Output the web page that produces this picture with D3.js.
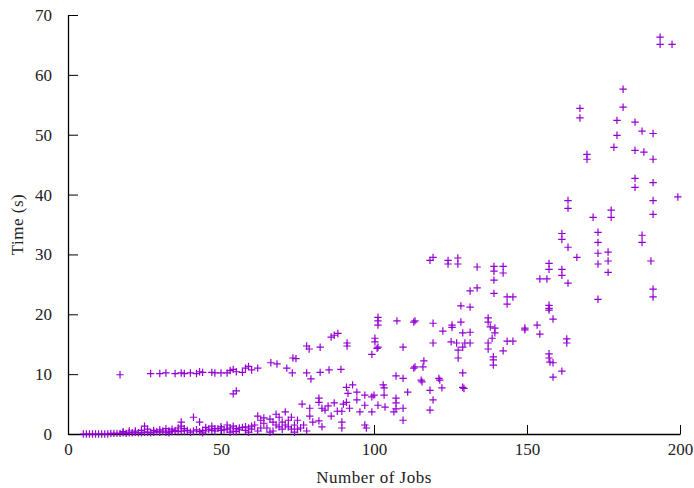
<!DOCTYPE html>
<html>
<head>
<meta charset="utf-8">
<script src="https://cdn.jsdelivr.net/npm/d3@7"></script>
<style>
  body { margin: 0; background: #fff; }
  svg { display: block; }
</style>
</head>
<body>
<div id="chart"></div>
<script>
// Data
//////////////////////////////////////////////////////////////////////
// near-zero runs, small job counts
const jobsLow = [5,6,7,8,9,10,11,12,13,14,15,16,17,18,19,20,21,22,23,24,25,26,27,28,29,30,31,32,33,34,35,36,37,38,39,40,41,42,43,44,45,46,47,48,49,50,51,52,53,54,55,56,57,58,59,60,
  18,20,22,24,25,26,28,30,32,33,34,36,37,37,38,41,43,44,45,47,48,50,52,53,54,55,56,58,59,60];
const timeLow = [0,0,0,0,0,0,0,0,0,0.1,0.1,0.1,0.1,0.2,0.1,0.2,0.2,0.3,0.2,0.2,0.3,0.3,0.2,0.3,0.4,0.3,0.5,0.3,0.5,0.4,0.6,0.4,0.5,0.5,0.6,0.3,0.5,0.7,0.4,0.6,0.5,0.8,0.6,0.5,0.9,0.6,0.7,0.8,1.0,0.5,0.9,0.7,1.1,0.6,1.0,0.8,
  0.4,0.5,0.5,0.6,1.3,0.8,0.6,0.7,0.9,0.2,0.8,1.0,1.3,2.0,0.9,2.8,2.0,0.2,1.1,1.3,0.9,1.2,1.5,0.3,1.3,0.4,1.0,1.2,0.3,1.3];

// lower cloud, 60 - 130 jobs
const jobsMid = [61,62,63,64,65,66,67,68,69,70,71,72,73,73,74,75,76,76.5,77,78,79,79,80,62,64,66,68,70,72,74,63,67,69,71,75,
  82,82,83,82,83,85,87,88,89.5,89.5,89.5,91,91.5,91,92,93,94.4,94.4,95.4,97,97,97,97.5,99.3,99.3,100,101.3,103,103.3,103.3,103.6,
  106.5,107.2,107.2,107.2,109.5,109.5,111,113,113.4,115.4,115.7,116,116.3,118.3,118.3,119.3,121.2,121.5,122.2,129,129,129.4,107.2,109.5,84,86,90];
const timeMid = [1.5,3.0,2.3,2.7,1.0,2.5,0.5,3.3,1.2,2.0,3.7,2.3,0.8,2.8,1.5,2.3,1.0,5.0,1.5,0.5,3.0,4.3,2.0,0.5,1.8,0.3,1.5,0.8,1.2,0.3,1.0,2.0,2.8,1.5,0.8,
  6.0,5.3,4.3,2.2,1.2,4.7,5.2,3.8,3.8,2.0,1.0,7.8,6.8,5.3,4.3,8.2,7.0,5.7,3.7,6.5,4.8,1.5,1.0,6.2,3.7,6.5,4.8,8.2,7.7,6.5,4.5,
  3.7,6.0,5.2,4.2,4.3,2.3,7.0,11.0,11.2,9.0,8.7,11.2,12.2,7.3,4.0,5.7,9.3,9.0,7.7,10.2,7.8,7.6,9.7,9.3,4.0,3.0,5.0];

// upper band, 10 - 20 s
const jobsBand = [17,27,30,32,35,37,38,40,42,43,44,47,48,50,52,53,54,55,57,58,59,60,62,54,55,66.3,68.3,71.5,73.3,73.5,74.5,78,78.8,78,79.4,
  82.4,82.4,85.3,86,87,88.2,89.2,91.2,91.2,99.3,100.3,100.3,101,101.3,101.3,101.3,101.3,107.5,109.5,113,113.4,119.3,119.3,122.5,
  125.5,125.5,125.2,128.4,131.4,128.4,129,131.4,127,129,129.7,127.5,127.5,131.4,137.3,137.3,138,139.5,139.5,137.3,137.3,139,139,139,138.6,
  142.2,143.5,145.4,149.3,149.3,153.3,154.2,157.2,157.2,157.2,158.5,163,163,157.2,157.2,157.5,158.5,161.4,158.5];
const timeBand = [9.9,10.1,10.1,10.2,10.1,10.2,10.1,10.2,10.1,10.4,10.3,10.3,10.2,10.2,10.2,10.6,10.8,10.4,10.3,11.0,11.3,10.7,11.0,6.7,7.2,11.9,11.7,11.0,10.2,12.7,12.6,14.7,14.2,10.2,9.2,
  14.5,10.3,10.7,16.2,16.5,16.8,10.8,15.2,14.7,13.3,16.0,15.4,14.3,14.5,19.5,18.9,18.2,18.9,14.5,18.7,18.9,18.5,15.2,17.2,
  18.2,17.8,15.4,21.4,21.2,18.7,16.9,17.0,15.2,14.5,15.2,14.0,12.7,15.2,19.4,18.7,17.9,17.7,16.9,15.2,14.2,12.9,12.4,11.5,16.0,
  13.9,15.5,15.5,17.4,17.7,18.2,16.7,21.5,21.0,20.7,19.2,15.9,15.2,13.4,12.7,12.0,11.9,10.5,9.5];

// 20 - 30 s band
const jobsHigh = [118.3,119.3,124.2,124.2,127.4,127.4,133.7,139.2,139.2,142.2,142.2,139.2,139.2,131.4,133.7,143.5,145.4,143.5,
  154.2,156.5,157.2,157.2,161.4,161.4,163.4];
const timeHigh = [29.0,29.5,29.0,28.4,29.4,28.4,27.9,28.0,27.2,28.0,26.9,25.7,23.5,23.9,24.4,22.9,22.9,21.7,
  25.9,25.9,28.5,27.5,27.5,26.5,25.2];

// top, large job counts
const jobsTop = [163.4,163.4,161.4,161.4,163.4,166.3,171.6,173.2,173.2,173.2,173.2,173.2,176.5,176.5,176.5,177.5,177.5,187.6,187.6,190.5,
  191.2,191.2,191.2,191.2,191.2,199.3,185.3,185.3,191.2,188.2,185.3,178.4,179.4,191.2,187.6,185.3,179.4,167.3,167.3,181.4,181.4,
  169.6,169.6,193.5,193.5,197.4];
const timeTop = [39.0,37.7,33.5,32.5,31.2,29.5,36.2,33.7,32.0,30.2,28.4,22.5,30.4,28.9,27.0,37.4,36.2,33.2,32.0,28.9,
  24.2,22.9,42.0,39.0,36.7,39.6,42.7,41.2,45.9,47.1,47.4,47.9,49.9,50.2,50.6,52.1,52.4,54.4,52.8,57.6,54.6,
  46.7,45.9,66.3,65.1,65.1];

const xTicks = [0, 50, 100, 150, 200];
const yTicks = [0, 10, 20, 30, 40, 50, 60, 70];

// Variables
//////////////////////////////////////////////////////////////////////
const width = 694, height = 488;
const margin = { top: 15, right: 14, bottom: 54, left: 68 };
const fontFamily = '"Liberation Serif", "Times New Roman", serif';
const fontSize = "17px";
const color = "#9400d3";
const cross = 3.7;   // half size of the + marker

const jobs = [].concat(jobsLow, jobsMid, jobsBand, jobsHigh, jobsTop);
const times = [].concat(timeLow, timeMid, timeBand, timeHigh, timeTop);
const points = jobs.map((j, i) => ({ x: j, y: times[i] }));

const svg = d3.select("#chart").append("svg")
  .attr("width", width)
  .attr("height", height);

const x = d3.scaleLinear().domain([0, 200]).range([margin.left, width - margin.right]);
const y = d3.scaleLinear().domain([0, 70]).range([height - margin.bottom, margin.top]);

// Axes (gnuplot style, inward ticks, no box)
const xAxis = svg.append("g")
  .attr("transform", `translate(0,${height - margin.bottom})`)
  .call(d3.axisBottom(x).tickValues(xTicks).tickSizeInner(-9).tickSizeOuter(0).tickPadding(20));
const yAxis = svg.append("g")
  .attr("transform", `translate(${margin.left},0)`)
  .call(d3.axisLeft(y).tickValues(yTicks).tickSizeInner(-10).tickSizeOuter(0).tickPadding(16));

[xAxis, yAxis].forEach(g => {
  g.select(".domain").attr("stroke", "#000").attr("stroke-width", 1.3);
  g.selectAll(".tick line").attr("stroke", "#000").attr("stroke-width", 1);
  g.selectAll("text")
    .attr("font-family", fontFamily)
    .attr("font-size", fontSize)
    .attr("fill", "#222");
});
xAxis.selectAll("text").attr("dy", "0.05em");

// Axis titles
svg.append("text")
  .attr("x", (margin.left + width - margin.right) / 2)
  .attr("y", 483)
  .attr("text-anchor", "middle")
  .attr("font-family", fontFamily)
  .attr("font-size", fontSize)
  .attr("letter-spacing", "0.5px")
  .attr("fill", "#222")
  .text("Number of Jobs");

svg.append("text")
  .attr("transform", `translate(23,${(margin.top + height - margin.bottom) / 2}) rotate(-90)`)
  .attr("text-anchor", "middle")
  .attr("font-family", fontFamily)
  .attr("font-size", fontSize)
  .attr("letter-spacing", "0.5px")
  .attr("fill", "#222")
  .text("Time (s)");

// Points as + markers
svg.append("g")
  .attr("stroke", color)
  .attr("stroke-width", 1.2)
  .attr("fill", "none")
  .selectAll("path")
  .data(points)
  .join("path")
  .attr("d", d => {
    const px = x(d.x), py = y(d.y);
    return `M${px - cross},${py}H${px + cross}M${px},${py - cross}V${py + cross}`;
  });
</script>
</body>
</html>
